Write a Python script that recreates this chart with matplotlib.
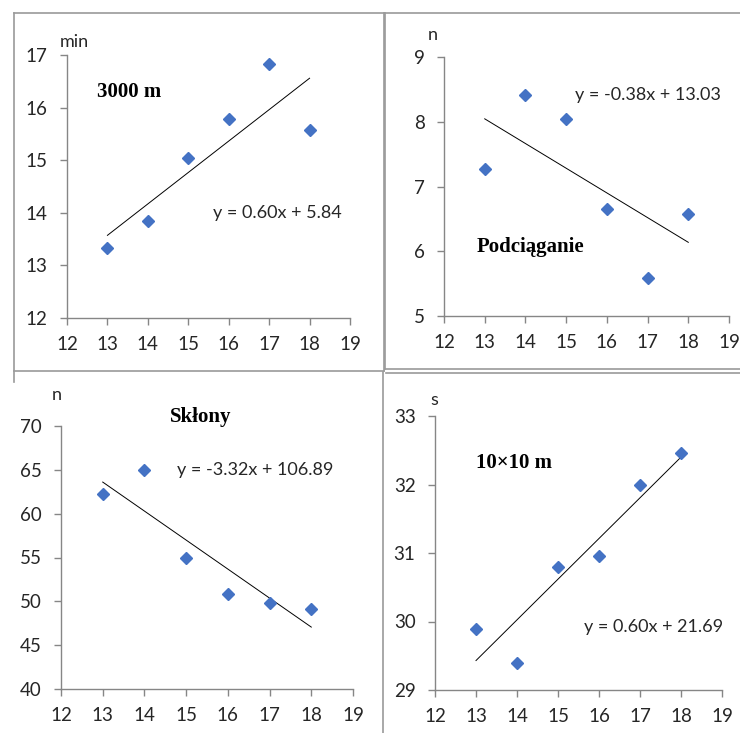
import matplotlib.pyplot as plt
import numpy as np
from matplotlib.lines import Line2D

W, H = 740, 733

age = [13, 14, 15, 16, 17, 18]
run_3000 = [13.33, 13.84, 15.04, 15.78, 16.83, 15.57]
pull_ups = [7.27, 8.42, 8.04, 6.66, 5.58, 6.58]
sit_ups = [62.3, 65.0, 55.0, 50.8, 49.8, 49.1]
shuttle = [29.89, 29.40, 30.79, 30.96, 31.99, 32.46]

titles = ["3000 m", "Podciąganie", "Skłony", "10×10 m"]
units = ["min", "n", "n", "s"]
equations = [
    "y = 0.60x + 5.84",
    "y = -0.38x + 13.03",
    "y = -3.32x + 106.89",
    "y = 0.60x + 21.69",
]
y_ranges = [(12, 17, 1), (5, 9, 1), (40, 70, 5), (29, 33, 1)]
x_ticks = [12, 13, 14, 15, 16, 17, 18, 19]

MARKER = "#4472C4"
AXIS = "#868686"
TEXT = "#262626"
SANS = "Lato"
SERIF = "Liberation Serif"


def fx(px):
    return px / W


def fy(py):
    return 1 - py / H


def draw_panel(fig, rect, y, yr, unit, unit_xy, title, title_xy, eq, eq_xy):
    left, top, right, bottom = rect
    ax = fig.add_axes([fx(left), fy(bottom), fx(right - left), (bottom - top) / H])
    ax.plot(age, y, "D", color=MARKER, markersize=6, zorder=3)
    # linear trend line fitted to the points
    k, b = np.polyfit(age, y, 1)
    xs = np.array([age[0], age[-1]])
    ax.plot(xs, k * xs + b, color="black", linewidth=0.7, zorder=2)
    ax.set_xlim(12, 19)
    ax.set_ylim(yr[0], yr[1])
    ax.set_xticks(x_ticks)
    ax.set_yticks(np.arange(yr[0], yr[1] + 0.1, yr[2]))
    for s in ("top", "right"):
        ax.spines[s].set_visible(False)
    for s in ("left", "bottom"):
        ax.spines[s].set_color(AXIS)
        ax.spines[s].set_linewidth(1.0)
    ax.tick_params(axis="both", colors=AXIS, length=5, width=1.0,
                   labelsize=13.5, labelcolor=TEXT)
    ax.tick_params(axis="y", pad=9)
    ax.tick_params(axis="x", pad=8)
    for lab in ax.get_xticklabels() + ax.get_yticklabels():
        lab.set_fontfamily(SANS)
    fig.text(fx(unit_xy[0]), fy(unit_xy[1]), unit, fontsize=13, family=SANS,
             color=TEXT, ha="center", va="center")
    fig.text(fx(title_xy[0]), fy(title_xy[1]), title, fontsize=15, family=SERIF,
             fontweight="bold", color="black", ha="left", va="center")
    fig.text(fx(eq_xy[0]), fy(eq_xy[1]), eq, fontsize=13, family=SANS,
             color=TEXT, ha="left", va="center")
    return ax


fig = plt.figure(figsize=(W / 100, H / 100), dpi=100)

# panel frames
frame = dict(color="#9a9a9a", linewidth=1.2)
segments = [
    ((14, 384), (13, 13)), ((14, 14), (13, 382)), ((14, 384), (371, 371)),
    ((384, 384), (13, 371)),
    ((385, 745), (13, 13)), ((385, 385), (13, 369)), ((385, 745), (369, 369)),
    ((383, 383), (372, 740)), ((386, 745), (373, 373)),
]
for (x0, x1), (y0, y1) in segments:
    fig.add_artist(Line2D([fx(x0), fx(x1)], [fy(y0), fy(y1)], **frame))

draw_panel(fig, (67, 55, 350, 318), run_3000, y_ranges[0], units[0], (74, 42),
           titles[0], (97, 92), equations[0], (213, 213))
draw_panel(fig, (444, 57, 729, 316), pull_ups, y_ranges[1], units[1], (433, 35),
           titles[1], (477, 247), equations[1], (575, 95))
draw_panel(fig, (61, 426, 353, 689), sit_ups, y_ranges[2], units[2], (57, 395),
           titles[2], (170, 417), equations[2], (177, 470))
draw_panel(fig, (435, 416, 722, 690), shuttle, y_ranges[3], units[3], (434, 400),
           titles[3], (476, 463), equations[3], (584, 627))

fig.savefig("out.png", dpi=100, facecolor="white")
